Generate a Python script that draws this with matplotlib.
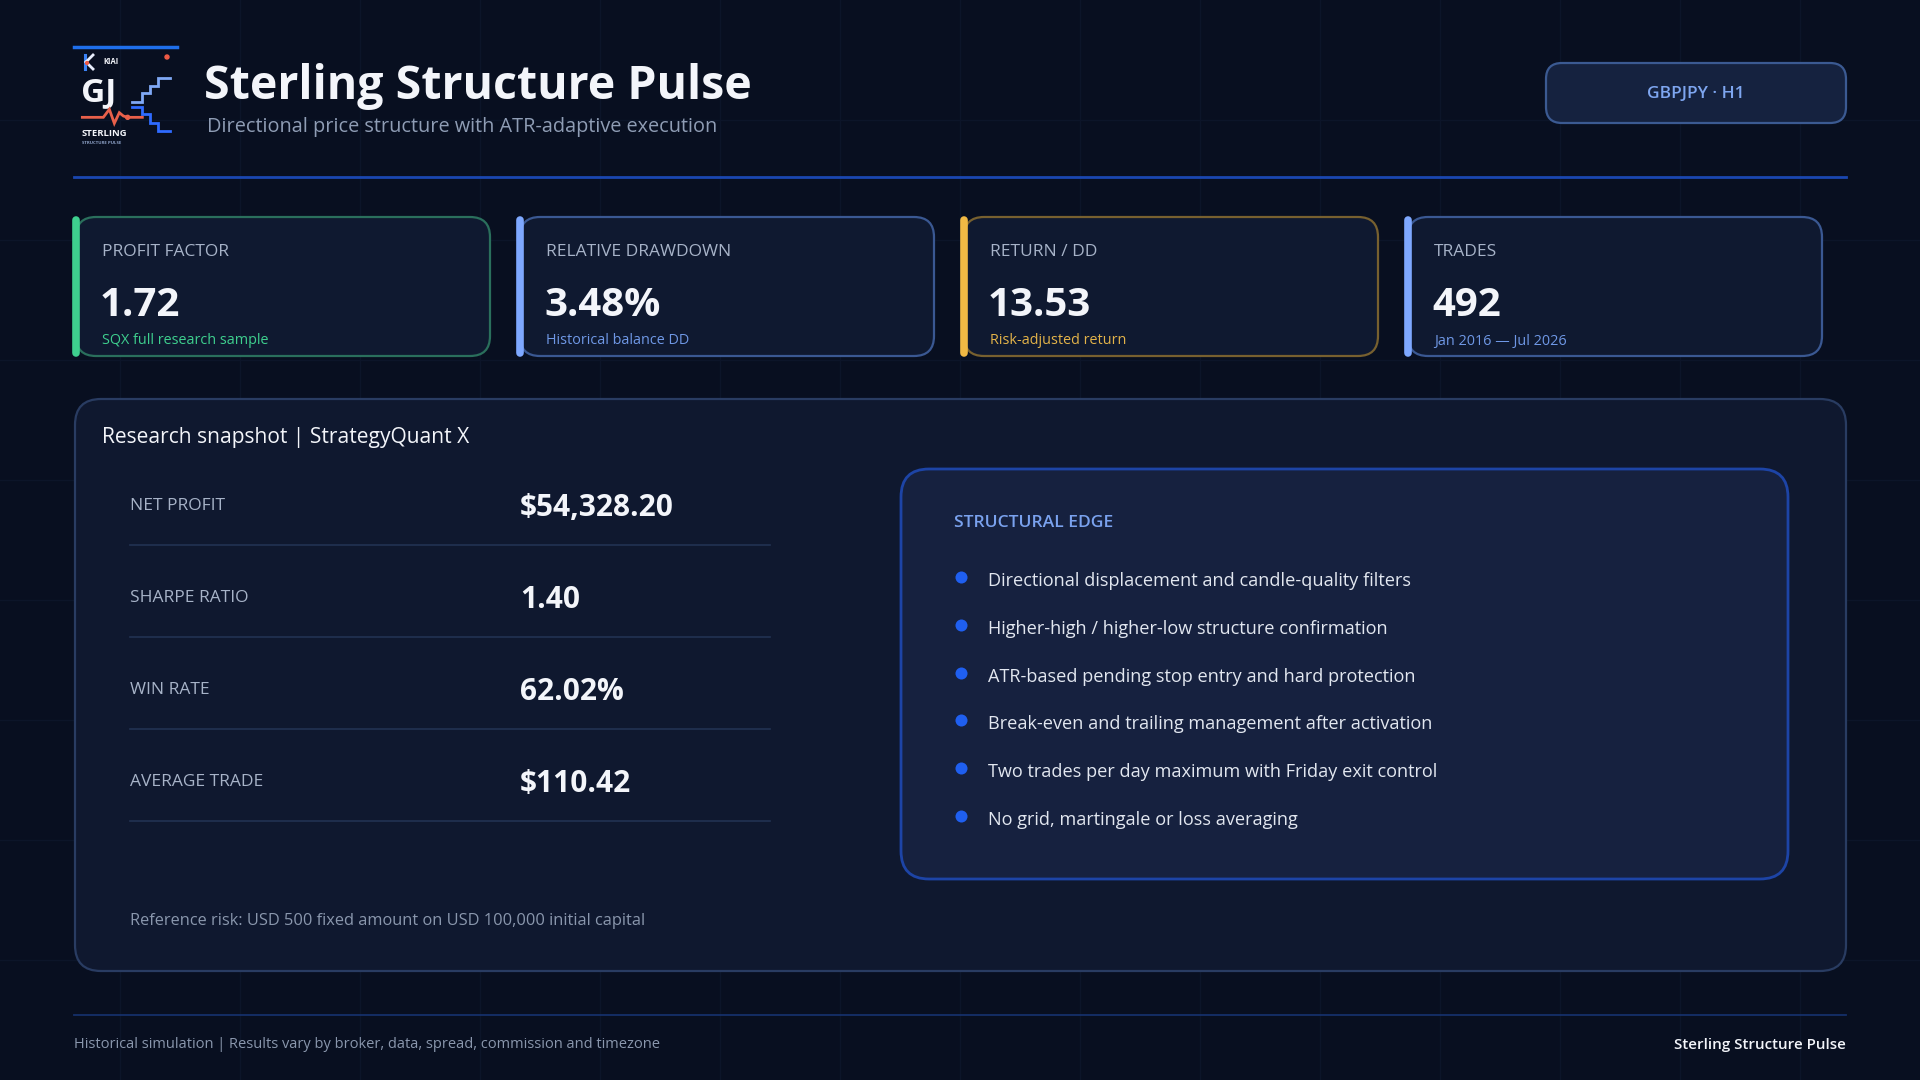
import matplotlib
matplotlib.use("Agg")
import matplotlib.pyplot as plt
from matplotlib.patches import FancyBboxPatch, Circle

plt.rcParams["font.family"] = ["Open Sans", "DejaVu Sans"]

# ---- data ----
title = "Sterling Structure Pulse"
subtitle = "Directional price structure with ATR-adaptive execution"
badge = "GBPJPY · H1"

card_labels = ["PROFIT FACTOR", "RELATIVE DRAWDOWN", "RETURN / DD", "TRADES"]
card_values = ["1.72", "3.48%", "13.53", "492"]
card_notes = ["SQX full research sample", "Historical balance DD",
              "Risk-adjusted return", "Jan 2016 — Jul 2026"]
card_accents = ["#3ecf8e", "#7ea8ff", "#f0b944", "#7ea8ff"]
card_borders = ["#2a6f5c", "#3a5892", "#77602f", "#3a5892"]
card_note_colors = ["#3ecf8e", "#6f98e6", "#e3b349", "#6f98e6"]

row_labels = ["NET PROFIT", "SHARPE RATIO", "WIN RATE", "AVERAGE TRADE"]
row_values = ["$54,328.20", "1.40", "62.02%", "$110.42"]

edge_title = "STRUCTURAL EDGE"
edge_points = [
    "Directional displacement and candle-quality filters",
    "Higher-high / higher-low structure confirmation",
    "ATR-based pending stop entry and hard protection",
    "Break-even and trailing management after activation",
    "Two trades per day maximum with Friday exit control",
    "No grid, martingale or loss averaging",
]

panel_title = "Research snapshot | StrategyQuant X"
risk_note = "Reference risk: USD 500 fixed amount on USD 100,000 initial capital"
footer_left = "Historical simulation | Results vary by broker, data, spread, commission and timezone"
footer_right = "Sterling Structure Pulse"

# ---- colours ----
BG = "#080f20"
GRID = "#0c1529"
PANEL = "#0f182f"
PANEL_EDGE = "#293c62"
EDGE_BOX = "#16213f"
EDGE_BORDER = "#1d44a6"
WHITE = "#f3f5fa"
GREY = "#a7b3c8"
MUTED = "#8a97ad"

fig = plt.figure(figsize=(19.2, 10.8), dpi=100, facecolor=BG)
ax = fig.add_axes([0, 0, 1, 1])
ax.set_xlim(0, 1920)
ax.set_ylim(1080, 0)
ax.axis("off")
ax.set_facecolor(BG)

# faint background grid
for gx in range(120, 1920, 120):
    ax.plot([gx, gx], [0, 1080], color=GRID, lw=1, zorder=0)
for gy in range(120, 1080, 120):
    ax.plot([0, 1920], [gy, gy], color=GRID, lw=1, zorder=0)


def box(x, y, w, h, r, fc, ec, lw=1.5, z=1):
    p = FancyBboxPatch((x, y), w, h, boxstyle=f"round,pad=0,rounding_size={r}",
                       fc=fc, ec=ec, lw=lw, zorder=z)
    ax.add_patch(p)


# ---- logo ----
def lp(px, py):
    return 70 + px / 3, 40 + py / 3

ax.plot([74, 177], [47, 47], color="#1f6feb", lw=2.5, zorder=3)
ax.plot([85, 85], [55, 69], color="#3b82f6", lw=2.2, zorder=3)
ax.plot([86, 93], [62, 55], color="#e8eefc", lw=2.0, zorder=3)
ax.plot([86, 93], [62, 69], color="#e8eefc", lw=2.0, zorder=3)
ax.add_patch(Circle((87, 63), 1.4, color="#ef5a45", zorder=4))
ax.text(103, 62, "KIAI", color=WHITE, fontsize=5.5, fontweight="bold", va="center")
ax.add_patch(Circle((167, 57), 2.0, color="#ef5a45", zorder=4))
ax.text(81, 93, "GJ", color=WHITE, fontsize=24, fontweight="bold", va="center")
up = [(187, 185), (215, 185), (215, 160), (240, 160), (240, 138), (265, 138), (265, 115), (300, 115)]
dn = [(187, 200), (215, 200), (215, 222), (240, 222), (240, 248), (265, 248), (265, 272), (300, 272)]
pulse = [(37, 232), (100, 232), (118, 208), (133, 250), (148, 218), (160, 228), (173, 232), (217, 232)]
for pts, col in [(up, "#7fa8f5"), (dn, "#2f6bff"), (pulse, "#e8604a")]:
    xs, ys = zip(*[lp(a, b) for a, b in pts])
    ax.plot(xs, ys, color=col, lw=2.0, zorder=3, solid_joinstyle="miter")
ax.add_patch(Circle(lp(173, 232), 2.0, color="#e8604a", zorder=4))
ax.text(82, 134, "STERLING", color=WHITE, fontsize=6.8, fontweight="bold", va="center")
ax.text(82, 143, "STRUCTURE PULSE", color="#8fa3c8", fontsize=3.2, fontweight="bold", va="center")

# ---- header ----
ax.text(204, 87, title, color=WHITE, fontsize=33.5, fontweight="bold", va="center")
ax.text(207, 127, subtitle, color="#8f9db5", fontsize=14.3, va="center")

box(1546, 63, 300, 60, 16, "#15223f", "#3b5a92", lw=1.6)
ax.text(1696, 94, badge, color="#7ea6f0", fontsize=12.5, fontweight="semibold",
        ha="center", va="center")

ax.plot([74, 1846], [177, 177], color="#1a47b0", lw=2, zorder=2)

# ---- metric cards ----
card_x0, card_step, card_w = 76, 444, 414
card_y, card_h = 217, 139
for i in range(len(card_labels)):
    x = card_x0 + i * card_step
    box(x, card_y, card_w, card_h, 20, "#0f1930", card_borders[i], lw=1.6, z=2)
    ax.plot([x, x], [card_y + 3, card_y + card_h - 3], color=card_accents[i],
            lw=5.5, solid_capstyle="round", zorder=3)
    ax.text(x + 26, 252, card_labels[i], color=GREY, fontsize=12.5,
            fontweight="medium", va="center", zorder=4)
    ax.text(x + 24, 305, card_values[i], color=WHITE, fontsize=29, fontweight="bold",
            va="center", zorder=4)
    ax.text(x + 26, 341, card_notes[i], color=card_note_colors[i], fontsize=10.4,
            va="center", zorder=4)

# ---- research panel ----
box(75, 399, 1771, 572, 26, PANEL, PANEL_EDGE, lw=1.6, z=1)
ax.text(102, 437, panel_title, color=WHITE, fontsize=15.1, fontweight="medium",
        va="center", zorder=4)

row_y0, row_step = 506, 92
for i, (lab, val) in enumerate(zip(row_labels, row_values)):
    y = row_y0 + i * row_step
    ax.text(130, y, lab, color=GREY, fontsize=12.5, fontweight="medium",
            va="center", zorder=4)
    ax.text(520, y + 2, val, color=WHITE, fontsize=21.5, fontweight="bold",
            va="center", zorder=4)
    ax.plot([130, 770], [y + 39, y + 39], color="#223252", lw=1.2, zorder=3)

ax.text(130, 921, risk_note, color=MUTED, fontsize=11.75, va="center", zorder=4)

# ---- structural edge box ----
box(901, 469, 887, 410, 28, EDGE_BOX, EDGE_BORDER, lw=2, z=2)
ax.text(954, 523, edge_title, color="#7aa2ee", fontsize=12.6, fontweight="semibold",
        va="center", zorder=4)
bullet_y0, bullet_step = 580, 47.8
for i, txt in enumerate(edge_points):
    y = bullet_y0 + i * bullet_step
    ax.scatter([961], [y - 3], s=75, color="#1f5ff0", zorder=4, linewidths=0)
    ax.text(988, y + 1, txt, color="#e2e7f0", fontsize=13.1, va="center", zorder=4)

# ---- footer ----
ax.plot([74, 1846], [1015, 1015], color="#15306a", lw=1.3, zorder=2)
ax.text(74, 1045, footer_left, color=MUTED, fontsize=10.5, va="center")
ax.text(1846, 1045, footer_right, color=WHITE, fontsize=10.9, fontweight="semibold",
        ha="right", va="center")

fig.savefig("out.png", dpi=100, facecolor=BG)
